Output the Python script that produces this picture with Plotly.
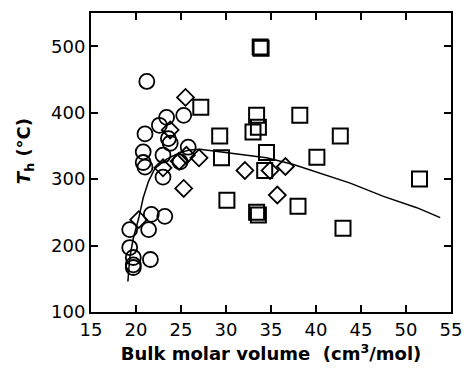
import plotly.graph_objects as go

# Circles
circ_x = [21.2, 25.3, 23.4, 22.6, 21.0, 23.6, 23.8, 25.8, 20.8, 23.0, 20.8, 21.0, 24.9, 23.0,
          21.7, 23.2, 19.3, 21.4, 19.3, 19.7, 21.6, 19.7, 19.7]
circ_y = [447, 396, 393, 381, 368, 361, 354, 348, 341, 336, 325, 318, 326, 303,
          247, 244, 224, 224, 197, 182, 179, 171, 167]

# Diamonds
diam_x = [25.5, 23.8, 27.0, 24.8, 25.6, 23.0, 25.3, 32.1, 34.9, 36.6, 35.7, 20.3]
diam_y = [423, 374, 332, 327, 336, 317, 286, 313, 313, 319, 276, 239]

# Squares
sq_x = [33.8, 33.9, 27.2, 33.4, 38.2, 33.6, 33.0, 29.3, 42.7, 34.5, 29.5, 40.1, 34.3,
        51.5, 30.1, 38.0, 33.4, 33.6, 43.0]
sq_y = [499, 497, 408, 396, 396, 378, 371, 365, 365, 340, 332, 333, 313,
        300, 268, 259, 250, 246, 226]

# Fitted curve
curve_x = [19.1, 19.3, 19.7, 20.3, 20.8, 21.4, 22.1, 23.4, 24.9, 26.0, 27.1, 30.8,
           34.5, 37.5, 40.1, 43.8, 47.5, 51.2, 53.8]
curve_y = [146, 181, 211, 241, 272, 297, 316, 330, 340, 344, 345, 339,
           332, 322, 310, 294, 274, 257, 242]

x_ticks = [15, 20, 25, 30, 35, 40, 45, 50, 55]
y_ticks = [100, 200, 300, 400, 500]

FONT = "DejaVu Sans, Liberation Sans, Arial, sans-serif"

fig = go.Figure()
fig.add_trace(go.Scatter(x=curve_x, y=curve_y, mode="lines",
                         line=dict(color="black", width=1.5), showlegend=False))
fig.add_trace(go.Scatter(x=circ_x, y=circ_y, mode="markers", showlegend=False,
                         marker=dict(symbol="circle-open", size=15, color="black",
                                     line=dict(width=1.8, color="black"))))
fig.add_trace(go.Scatter(x=diam_x, y=diam_y, mode="markers", showlegend=False,
                         marker=dict(symbol="diamond-open", size=13, color="black",
                                     line=dict(width=1.8, color="black"))))
fig.add_trace(go.Scatter(x=sq_x, y=sq_y, mode="markers", showlegend=False,
                         marker=dict(symbol="square-open", size=15, color="black",
                                     line=dict(width=2, color="black"))))

axis_common = dict(showgrid=False, zeroline=False, showline=True, linecolor="black",
                   linewidth=2, mirror="ticks", ticks="inside", ticklen=7,
                   tickwidth=1.5, tickcolor="black", automargin=False,
                   tickfont=dict(family=FONT, size=18, color="black"))

fig.update_xaxes(range=[15, 55], tickvals=x_ticks, ticktext=[str(v) for v in x_ticks],
                 title=dict(text="<b>Bulk molar volume\u00a0 (cm<sup>3</sup>/mol)</b>",
                            font=dict(family=FONT, size=18, color="black"), standoff=9),
                 **axis_common)
fig.update_yaxes(range=[100, 550], tickvals=y_ticks, ticktext=[str(v) for v in y_ticks],
                 **axis_common)

fig.add_annotation(text="<b><i>T</i><sub>h</sub> (°C)</b>", textangle=-90,
                   xref="paper", yref="paper", x=0, y=0.538, xanchor="center",
                   yanchor="middle", xshift=-66, showarrow=False,
                   font=dict(family=FONT, size=18, color="black"))

fig.update_layout(width=476, height=368, plot_bgcolor="white", paper_bgcolor="white",
                  margin=dict(l=91, r=25, t=13, b=56))

fig.write_html("out.html", config={"displayModeBar": False},
               post_script="document.body.style.margin='0';document.body.style.overflow='hidden';")
